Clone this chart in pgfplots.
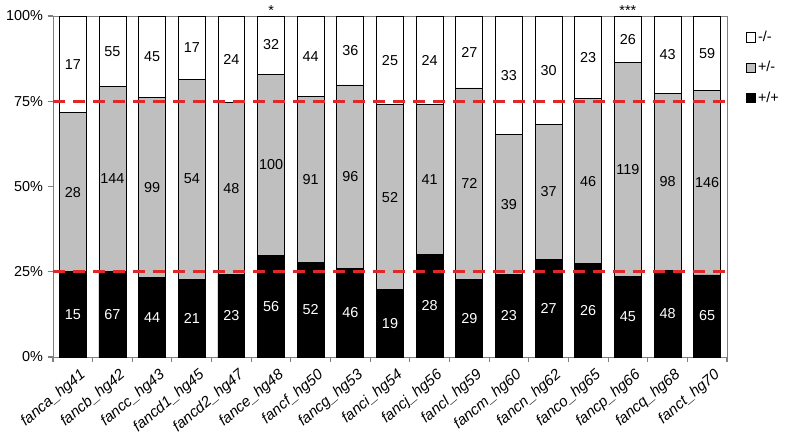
\documentclass[border=0pt]{standalone}
\usepackage{pgfplots}
\pgfplotsset{compat=1.18}
\usepackage{pgfplotstable}
\usepackage{fontspec}
\setmainfont{Liberation Sans}
\definecolor{barg}{RGB}{191,191,191}
\definecolor{axg}{RGB}{128,128,128}
\definecolor{dred}{RGB}{224,40,40}

\pgfplotstableread{
x b g2 t mb mg mw nb ng nw
0 25.00 71.67 100 12.50 48.33 85.83 15 28 17
1 25.19 79.32 100 12.59 52.26 89.66 67 144 55
2 23.40 76.06 100 11.70 49.73 88.03 44 99 45
3 22.83 81.52 100 11.41 52.17 90.76 21 54 17
4 24.21 74.74 100 12.11 49.47 87.37 23 48 24
5 29.79 82.98 100 14.89 56.38 91.49 56 100 32
6 27.81 76.47 100 13.90 52.14 88.24 52 91 44
7 25.84 79.78 100 12.92 52.81 89.89 46 96 36
8 19.79 73.96 100 9.90 46.88 86.98 19 52 25
9 30.11 74.19 100 15.05 52.15 87.10 28 41 24
10 22.66 78.91 100 11.33 50.78 89.45 29 72 27
11 24.21 65.26 100 12.11 44.74 82.63 23 39 33
12 28.72 68.09 100 14.36 48.40 84.04 27 37 30
13 27.37 75.79 100 13.68 51.58 87.89 26 46 23
14 23.68 86.32 100 11.84 55.00 93.16 45 119 26
15 25.40 77.25 100 12.70 51.32 88.62 48 98 43
16 24.07 78.15 100 12.04 51.11 89.07 65 146 59
}\data

\begin{document}
\begin{tikzpicture}
\useasboundingbox (-39.75pt,-64.5pt) rectangle (551.25pt,267.75pt);
\begin{axis}[
  scale only axis,
  width=505.5pt, height=255.75pt,
  xmin=-0.5, xmax=16.5, ymin=0, ymax=100,
  clip=false,
  axis line style={axg},
  xtick={0,...,16},
  xticklabels={fanca\_hg41,fancb\_hg42,fancc\_hg43,fancd1\_hg45,fancd2\_hg47,fance\_hg48,fancf\_hg50,fancg\_hg53,fanci\_hg54,fancj\_hg56,fancl\_hg59,fancm\_hg60,fancn\_hg62,fanco\_hg65,fancp\_hg66,fancq\_hg68,fanct\_hg70},
  major x tick style={draw=none},
  minor xtick={-0.5,0.5,...,16.5},
  minor tick length=4pt,
  minor x tick style={axg, line width=0.8pt},
  xtick pos=bottom, ytick pos=left,
  tick align=outside,
  ytick={0,25,50,75,100},
  yticklabel={\pgfmathprintnumber{\tick}\%},
  major y tick style={axg, line width=0.8pt},
  major tick length=4pt,
  /pgf/number format/assume math mode=true,
  yticklabel style={font=\fontsize{10.8}{12}\selectfont},
  xticklabel style={font=\fontsize{11.3}{12}\selectfont\itshape, rotate=40, anchor=north east, inner sep=1pt, yshift=-5pt, xshift=2pt},
  legend style={at={(1.028,0.963)}, anchor=north west, draw=none, fill=none,
    font=\fontsize{10.8}{12}\selectfont, row sep=10.5pt, inner sep=0pt,
    legend cell align=left, nodes={inner sep=1.5pt}},
  legend image code/.code={\draw[#1] (0pt,-3.5pt) rectangle (7pt,3.5pt);},
]
\addlegendimage{fill=white, draw=black}
\addlegendentry{-/-}
\addlegendimage{fill=barg, draw=black}
\addlegendentry{+/-}
\addlegendimage{fill=black, draw=black}
\addlegendentry{+/+}

\addplot[ybar, bar width=0.68, bar shift=0pt, fill=white, draw=black, line width=0.6pt, forget plot] table[x=x, y=t] {\data};
\addplot[ybar, bar width=0.68, bar shift=0pt, fill=barg, draw=black, line width=0.6pt, forget plot] table[x=x, y=g2] {\data};
\addplot[ybar, bar width=0.68, bar shift=0pt, fill=black, draw=black, line width=0.6pt, forget plot] table[x=x, y=b] {\data};

\addplot[dred, line width=2pt, dash pattern=on 9pt off 6pt, forget plot] coordinates {(-0.5,25) (16.55,25)};
\addplot[dred, line width=2pt, dash pattern=on 9pt off 6pt, forget plot] coordinates {(-0.5,75) (16.55,75)};

\addplot[draw=none, forget plot, nodes near coords, point meta=explicit symbolic,
  every node near coord/.style={anchor=center, text=white, font=\fontsize{10.8}{12}\selectfont}]
  table[x=x, y=mb, meta=nb] {\data};
\addplot[draw=none, forget plot, nodes near coords, point meta=explicit symbolic,
  every node near coord/.style={anchor=center, text=black, font=\fontsize{10.8}{12}\selectfont}]
  table[x=x, y=mg, meta=ng] {\data};
\addplot[draw=none, forget plot, nodes near coords, point meta=explicit symbolic,
  every node near coord/.style={anchor=center, text=black, font=\fontsize{10.8}{12}\selectfont}]
  table[x=x, y=mw, meta=nw] {\data};

\addplot[draw=none, forget plot, nodes near coords, point meta=explicit symbolic,
  every node near coord/.style={anchor=base, yshift=0pt, font=\fontsize{10.8}{12}\selectfont}]
  coordinates {(5,100) [*] (14,100) [***]};
\end{axis}
\end{tikzpicture}
\end{document}
